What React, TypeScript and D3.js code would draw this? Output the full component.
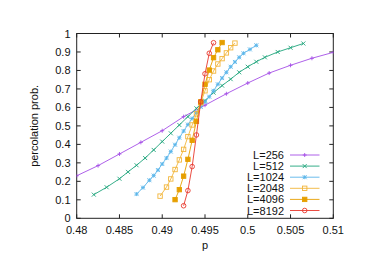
import React, { useEffect, useRef } from 'react';
import * as d3 from 'd3';

// p values and percolation probabilities
const p256 = [0.4775, 0.48, 0.4825, 0.485, 0.4875, 0.49, 0.4925, 0.495, 0.4975, 0.5, 0.5025, 0.505, 0.5075, 0.51];
const v256 = [0.168, 0.230, 0.285, 0.348, 0.411, 0.474, 0.550, 0.612, 0.674, 0.732, 0.786, 0.828, 0.866, 0.898];

const p512 = [0.482, 0.4835, 0.485, 0.486, 0.487, 0.488, 0.489, 0.49, 0.491, 0.492, 0.493, 0.494, 0.495, 0.496, 0.497, 0.498, 0.499, 0.5, 0.501, 0.502, 0.5035, 0.505, 0.5065];
const v512 = [0.128, 0.168, 0.214, 0.251, 0.287, 0.326, 0.370, 0.415, 0.460, 0.505, 0.550, 0.595, 0.637, 0.680, 0.718, 0.753, 0.790, 0.820, 0.847, 0.871, 0.900, 0.923, 0.946];

const p1024 = [0.487, 0.48775, 0.4885, 0.489, 0.4895, 0.49, 0.4905, 0.491, 0.4915, 0.492, 0.4925, 0.493, 0.4935, 0.494, 0.4945, 0.495, 0.4955, 0.496, 0.4965, 0.497, 0.4975, 0.498, 0.4985, 0.499, 0.4995, 0.50025, 0.501];
const v1024 = [0.131, 0.166, 0.206, 0.231, 0.261, 0.294, 0.326, 0.361, 0.398, 0.436, 0.472, 0.507, 0.540, 0.572, 0.603, 0.630, 0.658, 0.690, 0.725, 0.759, 0.790, 0.820, 0.846, 0.871, 0.893, 0.914, 0.936];

const p2048 = [0.48975, 0.4905, 0.491, 0.4915, 0.492, 0.4925, 0.493, 0.4935, 0.494, 0.4945, 0.495, 0.4955, 0.496, 0.4965, 0.497, 0.4975, 0.498, 0.4985];
const v2048 = [0.120, 0.169, 0.213, 0.264, 0.316, 0.373, 0.442, 0.505, 0.565, 0.625, 0.690, 0.750, 0.797, 0.835, 0.864, 0.895, 0.923, 0.948];

const p4096 = [0.4915, 0.492, 0.4925, 0.493, 0.4935, 0.494, 0.4945, 0.495, 0.4955, 0.496, 0.4965, 0.497];
const v4096 = [0.101, 0.155, 0.228, 0.319, 0.422, 0.525, 0.630, 0.725, 0.802, 0.869, 0.912, 0.951];

const p8192 = [0.4925, 0.493, 0.4935, 0.494, 0.4945, 0.495, 0.4955, 0.496];
const v8192 = [0.068, 0.150, 0.280, 0.451, 0.630, 0.782, 0.893, 0.950];

const labels = ['L=256', 'L=512', 'L=1024', 'L=2048', 'L=4096', 'L=8192'];
const colors = ['#a54fe6', '#1fa57c', '#5ab5ea', '#f2b53a', '#e69f00', '#e8392e'];
const markers = ['plus', 'cross', 'star', 'square', 'fsquare', 'circle'];

const xTicks = [0.48, 0.485, 0.49, 0.495, 0.5, 0.505, 0.51];
const yTicks = [0, 0.1, 0.2, 0.3, 0.4, 0.5, 0.6, 0.7, 0.8, 0.9, 1];

const seriesP = [p256, p512, p1024, p2048, p4096, p8192];
const seriesV = [v256, v512, v1024, v2048, v4096, v8192];

const App = () => {
  const svgRef = useRef<SVGSVGElement>(null);

  useEffect(() => {
    const W = 386, H = 273;
    const left = 76.7, right = 333.3, top = 33.5, bottom = 218.3;
    const font = '"Liberation Sans", Arial, sans-serif';

    const svg = d3.select(svgRef.current)
      .attr('width', W)
      .attr('height', H);
    svg.selectAll('*').remove();

    const x = d3.scaleLinear().domain([0.48, 0.51]).range([left, right]);
    const y = d3.scaleLinear().domain([0, 1]).range([bottom, top]);

    svg.append('defs').append('clipPath').attr('id', 'plotclip')
      .append('rect')
      .attr('x', left).attr('y', top)
      .attr('width', right - left).attr('height', bottom - top);

    // frame + mirrored ticks
    const frame = svg.append('g').attr('stroke', '#222').attr('stroke-width', 1).attr('fill', 'none');
    frame.append('rect')
      .attr('x', left).attr('y', top)
      .attr('width', right - left).attr('height', bottom - top);
    const tk = 4;
    xTicks.forEach(t => {
      frame.append('line').attr('x1', x(t)).attr('x2', x(t)).attr('y1', bottom).attr('y2', bottom - tk);
      frame.append('line').attr('x1', x(t)).attr('x2', x(t)).attr('y1', top).attr('y2', top + tk);
    });
    yTicks.forEach(t => {
      frame.append('line').attr('x1', left).attr('x2', left + tk).attr('y1', y(t)).attr('y2', y(t));
      frame.append('line').attr('x1', right).attr('x2', right - tk).attr('y1', y(t)).attr('y2', y(t));
    });

    const txt = svg.append('g')
      .attr('font-family', font)
      .attr('font-size', 11)
      .attr('fill', '#111');

    txt.selectAll('.xl').data(xTicks).join('text')
      .attr('class', 'xl')
      .attr('x', d => x(d))
      .attr('y', 233.5)
      .attr('text-anchor', 'middle')
      .text(d => d3.format('')(d));

    txt.selectAll('.yl').data(yTicks).join('text')
      .attr('class', 'yl')
      .attr('x', 70.5)
      .attr('y', d => y(d) + 4)
      .attr('text-anchor', 'end')
      .text(d => d3.format('')(d));

    txt.append('text')
      .attr('x', 205)
      .attr('y', 249)
      .attr('text-anchor', 'middle')
      .text('p');

    txt.append('text')
      .attr('transform', `translate(38,${(top + bottom) / 2}) rotate(-90)`)
      .attr('text-anchor', 'middle')
      .text('percolation prob.');

    const drawMarker = (g: any, kind: string, cx: number, cy: number, color: string) => {
      const s = 2;
      if (kind === 'plus' || kind === 'star') {
        g.append('path').attr('d', `M${cx - s},${cy}H${cx + s}M${cx},${cy - s}V${cy + s}`)
          .attr('stroke', color).attr('fill', 'none');
      }
      if (kind === 'cross' || kind === 'star') {
        g.append('path').attr('d', `M${cx - s},${cy - s}L${cx + s},${cy + s}M${cx - s},${cy + s}L${cx + s},${cy - s}`)
          .attr('stroke', color).attr('fill', 'none');
      }
      if (kind === 'square' || kind === 'fsquare') {
        const q = 2.2;
        g.append('rect').attr('x', cx - q).attr('y', cy - q).attr('width', 2 * q).attr('height', 2 * q)
          .attr('stroke', color).attr('fill', kind === 'fsquare' ? color : 'none');
      }
      if (kind === 'circle') {
        g.append('circle').attr('cx', cx).attr('cy', cy).attr('r', 2.3)
          .attr('stroke', color).attr('fill', 'none');
      }
    };

    const line = d3.line<[number, number]>()
      .x(d => x(d[0]))
      .y(d => y(d[1]));

    const plot = svg.append('g').attr('clip-path', 'url(#plotclip)');

    seriesP.forEach((ps, i) => {
      const pts: [number, number][] = ps.map((p, j) => [p, seriesV[i][j]]);
      const g = plot.append('g').attr('stroke-width', 0.9);
      g.append('path')
        .datum(pts)
        .attr('d', line)
        .attr('fill', 'none')
        .attr('stroke', colors[i]);
      pts.forEach(d => drawMarker(g, markers[i], x(d[0]), y(d[1]), colors[i]));
    });

    // legend
    const leg = svg.append('g').attr('stroke-width', 0.9);
    labels.forEach((lab, i) => {
      const ly = 155 + i * 11.1;
      leg.append('text')
        .attr('x', 284)
        .attr('y', ly + 4)
        .attr('text-anchor', 'end')
        .attr('font-family', font)
        .attr('font-size', 11)
        .attr('fill', '#111')
        .text(lab);
      leg.append('line')
        .attr('x1', 290).attr('x2', 319.5)
        .attr('y1', ly).attr('y2', ly)
        .attr('stroke', colors[i]);
      drawMarker(leg, markers[i], 304.7, ly, colors[i]);
    });
  }, []);

  return (
    <React.Fragment>
      <svg ref={svgRef} style={{ position: 'absolute', left: 0, top: 0, background: '#fff' }} />
    </React.Fragment>
  );
};

export default App;
